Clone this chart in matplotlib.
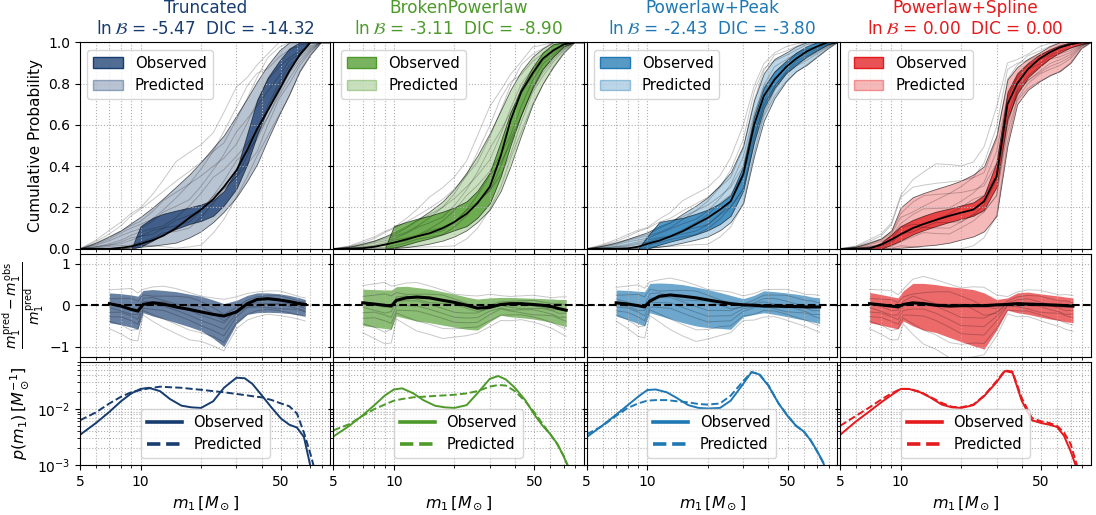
import numpy as np
import matplotlib
matplotlib.use('Agg')
import matplotlib.pyplot as plt
from matplotlib.patches import Patch
from matplotlib.lines import Line2D
from matplotlib.colors import to_rgba
from matplotlib.ticker import NullFormatter

models = ['Truncated', 'BrokenPowerlaw', 'Powerlaw+Peak', 'Powerlaw+Spline']
ln_bf = ['-5.47', '-3.11', '-2.43', '0.00']
dic = ['-14.32', '-8.90', '-3.80', '0.00']
colors = ['#173c70', '#4d9a2a', '#1f78b4', '#e41a1c']

# --- top row: cumulative probability vs m1 ---
mass = [5, 6, 7, 8, 9, 10, 11.5, 13, 15, 17.5, 20, 23, 26, 30, 34, 38, 43, 49, 55, 62, 70, 79, 88]

cdf_med = [
    [0, 0, 0, .005, .012, .024, .042, .064, .10, .15, .19, .24, .30, .38, .48, .58, .67, .77, .86, .94, 1, 1, 1],
    [0, 0, .003, .01, .02, .03, .045, .06, .075, .10, .13, .17, .22, .30, .45, .62, .76, .85, .92, .96, .99, 1, 1],
    [0, 0, 0, .002, .01, .024, .04, .06, .085, .12, .15, .19, .23, .36, .60, .74, .82, .88, .92, .955, .98, 1, 1],
    [0, 0, .003, .02, .045, .07, .10, .12, .14, .16, .175, .19, .23, .35, .70, .80, .87, .92, .95, .975, .99, 1, 1],
]
cdf_pred_hi = [
    [0, .03, .06, .09, .125, .155, .20, .245, .30, .36, .42, .49, .55, .645, .73, .81, .89, .96, 1, 1, 1, 1, 1],
    [0, .01, .025, .04, .06, .08, .11, .14, .18, .23, .29, .37, .45, .56, .67, .77, .86, .93, .97, 1, 1, 1, 1],
    [0, .015, .03, .048, .065, .08, .11, .13, .17, .21, .25, .31, .37, .50, .72, .85, .92, .95, .98, 1, 1, 1, 1],
    [0, .01, .03, .05, .09, .20, .25, .27, .29, .31, .33, .36, .40, .55, .82, .88, .92, .95, .98, 1, 1, 1, 1],
]
cdf_pred_lo = [
    [0, 0, 0, .003, .006, .01, .015, .022, .03, .055, .085, .13, .18, .25, .33, .41, .53, .65, .75, .86, .94, 1, 1],
    [0, 0, 0, 0, 0, .003, .008, .015, .025, .04, .06, .09, .13, .19, .28, .40, .55, .70, .80, .88, .95, 1, 1],
    [0, 0, 0, 0, .002, .005, .01, .017, .03, .045, .06, .09, .13, .22, .45, .62, .73, .81, .86, .89, .93, .97, 1],
    [0, 0, 0, 0, .003, .005, .01, .015, .02, .03, .045, .06, .085, .16, .50, .70, .77, .81, .84, .86, .90, .97, 1],
]
cdf_obs_hi = [
    [0, 0, 0, 0, 0, .11, .15, .17, .185, .20, .215, .235, .28, .38, .56, .72, .83, .91, .97, 1, 1, 1, 1],
    [0, 0, 0, 0, 0, .11, .13, .145, .16, .18, .20, .23, .28, .37, .52, .66, .78, .88, .95, .99, 1, 1, 1],
    [0, 0, 0, 0, 0, .06, .13, .14, .15, .17, .19, .22, .26, .40, .64, .78, .86, .91, .95, .98, 1, 1, 1],
    [0, 0, 0, .03, .07, .11, .14, .16, .18, .195, .21, .225, .26, .42, .76, .85, .90, .94, .965, .985, 1, 1, 1],
]
cdf_obs_lo = [
    [0, 0, 0, 0, 0, .01, .04, .07, .096, .12, .135, .16, .21, .29, .41, .55, .68, .79, .87, .94, 1, 1, 1],
    [0, 0, 0, 0, 0, .005, .02, .035, .05, .07, .09, .11, .15, .22, .35, .50, .65, .78, .87, .93, .98, 1, 1],
    [0, 0, 0, 0, 0, 0, .02, .035, .05, .07, .09, .12, .16, .28, .52, .68, .78, .85, .89, .93, .96, .99, 1],
    [0, 0, 0, 0, .02, .04, .07, .09, .11, .13, .145, .16, .19, .30, .63, .75, .83, .88, .92, .95, .975, .99, 1],
]
# position of single predicted draws inside the predicted band (0 = lower edge, 1 = upper edge)
cdf_draws = [
    [0.3, 0.35, 0.4, 0.45, 0.5, 0.5, 0.45, 0.4, 0.45, 0.5, 0.55, 0.6, 0.55, 0.5, 0.45, 0.4, 0.45, 0.5, 0.55, 0.5, 0.5, 0.5, 0.5],
    [0.7, 0.75, 0.8, 0.85, 0.8, 0.75, 0.7, 0.75, 0.8, 0.85, 0.8, 0.75, 0.7, 0.65, 0.7, 0.75, 0.8, 0.75, 0.7, 0.7, 0.7, 0.7, 0.7],
    [0.1, 0.15, 0.2, 0.15, 0.1, 0.15, 0.2, 0.25, 0.2, 0.15, 0.2, 0.25, 0.3, 0.25, 0.2, 0.15, 0.2, 0.25, 0.2, 0.2, 0.2, 0.2, 0.2],
    [1.1, 1.15, 1.2, 1.25, 1.3, 1.25, 1.2, 1.15, 1.1, 1.05, 1.0, 0.95, 0.9, 0.95, 1.0, 1.05, 1.1, 1.05, 1.0, 1.0, 1.0, 1.0, 1.0],
    [-0.1, -0.15, -0.2, -0.1, 0.0, 0.05, 0.0, -0.05, -0.1, -0.15, -0.2, -0.15, -0.1, 0.0, 0.05, 0.1, 0.05, 0.0, -0.05, 0, 0, 0, 0],
    [0.55, 0.6, 0.65, 0.7, 0.65, 0.6, 0.65, 0.7, 0.65, 0.6, 0.65, 0.7, 0.75, 0.8, 0.75, 0.7, 0.65, 0.6, 0.65, 0.6, 0.6, 0.6, 0.6],
    [0.4, 0.35, 0.3, 0.35, 0.4, 0.35, 0.3, 0.35, 0.4, 0.35, 0.3, 0.35, 0.4, 0.45, 0.35, 0.3, 0.3, 0.35, 0.4, 0.4, 0.4, 0.4, 0.4],
    [0.9, 0.95, 1.0, 0.95, 0.9, 0.85, 0.9, 0.95, 0.9, 0.85, 0.9, 0.95, 1.05, 1.1, 1.15, 1.1, 0.95, 0.9, 0.85, 0.9, 0.9, 0.9, 0.9],
    [1.3, 1.4, 1.5, 1.45, 1.4, 1.3, 1.35, 1.4, 1.45, 1.35, 1.25, 1.2, 1.3, 1.35, 1.25, 1.2, 1.15, 1.2, 1.1, 1, 1, 1, 1],
    [0.2, 0.25, 0.3, 0.25, 0.3, 0.35, 0.4, 0.35, 0.3, 0.25, 0.3, 0.35, 0.3, 0.25, 0.3, 0.35, 0.3, 0.3, 0.3, 0.3, 0.3, 0.3, 0.3],
]

# --- middle row: relative residual ---
nan = np.nan
res_mass = [7, 8, 9, 9.7, 10.3, 11.5, 13, 15, 17.5, 20, 23, 26, 30, 34, 38, 43, 49, 55, 62, 66, 72]
res_hi = [
    [.30, .28, .25, .22, .36, .38, .36, .33, .27, .22, .13, .04, .12, .24, .30, .30, .28, .24, .18, .14, nan],
    [.39, .38, .37, .37, .45, .46, .43, .39, .33, .27, .20, .15, .18, .19, .19, .18, .17, .16, .15, .14, .14],
    [.37, .36, .34, .33, .53, .54, .53, .50, .44, .38, .31, .24, .16, .24, .35, .33, .30, .27, .23, .20, .18],
    [.31, .26, .21, .18, .35, .53, .53, .50, .45, .42, .38, .30, .14, .18, .30, .32, .28, .25, .22, .20, .18],
]
res_lo = [
    [-.42, -.47, -.53, -.58, -.18, -.26, -.33, -.42, -.52, -.62, -.80, -1.0, -.45, -.22, -.18, -.17, -.18, -.20, -.24, -.26, nan],
    [-.49, -.53, -.56, -.58, -.26, -.32, -.38, -.42, -.48, -.53, -.58, -.60, -.40, -.24, -.28, -.30, -.33, -.37, -.43, -.47, -.52],
    [-.26, -.35, -.44, -.50, -.18, -.25, -.33, -.42, -.50, -.54, -.56, -.58, -.28, -.22, -.18, -.22, -.27, -.32, -.37, -.40, -.44],
    [-.42, -.48, -.54, -.57, -.38, -.50, -.60, -.66, -.78, -.88, -.98, -1.06, -.60, -.12, -.18, -.22, -.28, -.33, -.37, -.40, -.42],
]
res_med = [
    [.04, -.02, -.10, -.14, .02, .06, .03, -.04, -.10, -.16, -.22, -.26, -.16, .04, .14, .16, .13, .09, .04, .02, nan],
    [.06, .03, 0, -.02, .12, .18, .20, .18, .12, .07, 0, -.07, -.05, .02, .04, .04, .02, 0, -.04, -.08, -.12],
    [.06, .03, -.01, -.04, .10, .22, .25, .22, .18, .13, .08, .04, .01, 0, -.02, -.02, -.03, -.03, -.04, -.04, -.04],
    [.04, .01, -.02, -.04, .02, .06, .04, 0, -.02, -.01, -.01, -.01, .01, .02, .04, .03, .02, .01, 0, -.01, -.02],
]
res_draws = [
    [0.5, 0.45, 0.4, 0.45, 0.5, 0.55, 0.6, 0.55, 0.5, 0.45, 0.5, 0.55, 0.6, 0.55, 0.5, 0.45, 0.5, 0.55, 0.5, 0.45, 0.5],
    [0.8, 0.85, 0.9, 0.85, 0.8, 0.75, 0.8, 0.85, 0.9, 0.85, 0.8, 0.75, 0.7, 0.75, 0.8, 0.85, 0.9, 0.85, 0.8, 0.85, 0.8],
    [0.2, 0.25, 0.2, 0.15, 0.2, 0.25, 0.3, 0.25, 0.2, 0.15, 0.2, 0.25, 0.3, 0.35, 0.3, 0.25, 0.2, 0.25, 0.3, 0.25, 0.2],
    [-0.2, -0.3, -0.4, -0.35, -0.1, -0.2, -0.3, -0.35, -0.4, -0.3, -0.2, -0.1, -0.2, -0.3, -0.2, -0.1, -0.15, -0.2, -0.25, -0.3, -0.35],
    [1.1, 1.15, 1.2, 1.1, 1.05, 1.1, 1.15, 1.1, 1.05, 1.0, 1.05, 1.1, 1.15, 1.1, 1.05, 1.1, 1.15, 1.1, 1.05, 1.1, 1.1],
    [0.65, 0.6, 0.55, 0.6, 0.65, 0.7, 0.65, 0.6, 0.65, 0.7, 0.65, 0.6, 0.55, 0.6, 0.65, 0.7, 0.65, 0.6, 0.55, 0.6, 0.65],
    [0.35, 0.4, 0.35, 0.3, 0.35, 0.4, 0.45, 0.4, 0.35, 0.3, 0.35, 0.4, 0.45, 0.4, 0.35, 0.4, 0.45, 0.4, 0.35, 0.3, 0.35],
    [0.05, 0.0, -0.1, 0.0, 0.1, 0.05, 0.0, -0.05, -0.1, -0.05, 0.05, 0.1, 0.05, 0.0, 0.1, 0.15, 0.1, 0.05, 0.0, -0.05, -0.1],
]

# --- bottom row: log10 of p(m1) ---
pdf_mass = [5, 6, 7, 8, 9, 10, 11, 12.5, 14, 16, 18, 20, 23, 26, 30, 33, 36, 40, 45, 50, 55, 60, 65, 70, 75, 80]
log_pdf_obs = [
    [-2.46, -2.25, -2.05, -1.86, -1.72, -1.64, -1.62, -1.68, -1.82, -1.94, -1.97, -1.98, -1.86, -1.62, -1.44, -1.45, -1.55, -1.75, -1.98, -2.17, -2.28, -2.33, -2.5, -3.02, -3.6, -4.2],
    [-2.49, -2.3, -2.11, -1.93, -1.76, -1.65, -1.63, -1.72, -1.84, -1.94, -1.97, -1.98, -1.93, -1.72, -1.46, -1.41, -1.47, -1.62, -1.84, -2.1, -2.3, -2.45, -2.62, -2.85, -3.1, -3.5],
    [-2.5, -2.29, -2.1, -1.93, -1.78, -1.66, -1.65, -1.70, -1.8, -1.93, -1.98, -1.99, -1.98, -1.85, -1.55, -1.34, -1.38, -1.58, -1.9, -2.13, -2.3, -2.4, -2.56, -2.75, -2.95, -3.3],
    [-2.46, -2.22, -2.04, -1.88, -1.75, -1.64, -1.64, -1.70, -1.79, -1.92, -1.97, -1.98, -1.93, -1.77, -1.52, -1.32, -1.35, -1.85, -2.2, -2.25, -2.28, -2.32, -2.48, -2.75, -3.05, -3.4],
]
log_pdf_pred = [
    [-2.2, -2.06, -1.9, -1.78, -1.7, -1.66, -1.63, -1.60, -1.61, -1.62, -1.64, -1.655, -1.68, -1.70, -1.73, -1.75, -1.77, -1.79, -1.84, -1.90, -1.95, -2.08, -2.42, -2.8, -3.2, -3.7],
    [-2.38, -2.27, -2.12, -2.0, -1.92, -1.85, -1.82, -1.79, -1.78, -1.765, -1.755, -1.745, -1.72, -1.68, -1.6, -1.57, -1.58, -1.68, -1.86, -2.06, -2.27, -2.45, -2.63, -2.84, -3.1, -3.5],
    [-2.45, -2.3, -2.12, -1.98, -1.9, -1.85, -1.84, -1.84, -1.86, -1.88, -1.91, -1.92, -1.9, -1.76, -1.5, -1.34, -1.37, -1.57, -1.9, -2.12, -2.3, -2.4, -2.56, -2.76, -2.96, -3.3],
    [-2.3, -2.12, -1.97, -1.83, -1.72, -1.64, -1.64, -1.69, -1.78, -1.89, -1.96, -1.97, -1.92, -1.76, -1.5, -1.31, -1.33, -1.80, -2.16, -2.22, -2.25, -2.30, -2.42, -2.62, -2.98, -3.4],
]

fig = plt.figure(figsize=(10.96, 5.15), dpi=100)
gs = fig.add_gridspec(3, 4, height_ratios=[2, 1, 1], hspace=0.035, wspace=0.012,
                      left=0.073, right=0.995, top=0.918, bottom=0.097)
axes = [[fig.add_subplot(gs[r, c]) for c in range(4)] for r in range(3)]

m = np.array(mass)
rm = np.array(res_mass)
pm = np.array(pdf_mass)

for c, col in enumerate(colors):
    # cumulative panel
    ax = axes[0][c]
    lo, hi = np.array(cdf_pred_lo[c]), np.array(cdf_pred_hi[c])
    ax.fill_between(m, lo, hi, facecolor=to_rgba(col, 0.3), edgecolor=(0, 0, 0, 0.6), lw=0.6)
    ax.fill_between(m, cdf_obs_lo[c], cdf_obs_hi[c], facecolor=to_rgba(col, 0.75),
                    edgecolor=(0, 0, 0, 0.6), lw=0.6)
    for f in cdf_draws:
        y = np.clip(lo + np.array(f) * (hi - lo), 0, 1)
        ax.plot(m, y, color='k', alpha=0.22, lw=0.7)
    ax.plot(m, cdf_med[c], color='k', lw=1.3)
    ax.set_ylim(0, 1)
    ax.set_yticks([0, 0.2, 0.4, 0.6, 0.8, 1.0])
    title = models[c] + '\n' + r'$\ln\mathcal{B}$' + ' = %s  DIC = %s' % (ln_bf[c], dic[c])
    ax.set_title(title, color=col, fontsize=12.2)
    handles = [Patch(facecolor=to_rgba(col, 0.75), edgecolor=col),
               Patch(facecolor=to_rgba(col, 0.3), edgecolor=to_rgba(col, 0.4))]
    ax.legend(handles, ['Observed', 'Predicted'], loc='upper left', fontsize=10.7)

    # residual panel
    ax = axes[1][c]
    lo, hi = np.array(res_lo[c]), np.array(res_hi[c])
    ax.fill_between(rm, lo, hi, color=col, alpha=0.65, lw=0)
    for f in res_draws:
        ax.plot(rm, lo + np.array(f) * (hi - lo), color='k', alpha=0.22, lw=0.7)
    ax.plot(rm, res_med[c], color='k', lw=2.2)
    ax.axhline(0, color='k', ls='--', lw=1.5)
    ax.set_ylim(-1.25, 1.25)
    ax.set_yticks([-1, 0, 1])

    # density panel
    ax = axes[2][c]
    ax.plot(pm, 10 ** np.array(log_pdf_obs[c]), color=col, lw=1.4)
    ax.plot(pm, 10 ** np.array(log_pdf_pred[c]), color=col, lw=1.4, ls='--')
    ax.set_yscale('log')
    ax.set_ylim(1e-3, 0.07)
    handles = [Line2D([], [], color=col, lw=2.6), Line2D([], [], color=col, lw=2.6, ls='--')]
    ax.legend(handles, ['Observed', 'Predicted'], loc='lower center', fontsize=10.5,
              handlelength=2.4)
    ax.set_xlabel(r'$m_1\,[M_\odot]$', fontsize=11.5)

for r in range(3):
    for c in range(4):
        ax = axes[r][c]
        ax.set_xscale('log')
        ax.set_xlim(5, 88)
        ax.set_xticks([5, 10, 50])
        ax.set_xticklabels(['5', '10', '50'] if r == 2 else [])
        ax.xaxis.set_minor_formatter(NullFormatter())
        ax.grid(True, which='both', ls=':', color='#b0b0b0', lw=0.8)
        ax.tick_params(labelsize=10)
        if c > 0:
            ax.tick_params(labelleft=False)

axes[0][0].set_ylabel('Cumulative Probability', fontsize=11)
axes[1][0].set_ylabel(r'$\dfrac{m_1^{\rm pred} - m_1^{\rm obs}}{m_1^{\rm pred}}$', fontsize=10,
                      labelpad=2)
axes[2][0].set_ylabel(r'$p(m_1)\,[M_\odot^{-1}]$', fontsize=11.5)

fig.savefig('out.png', dpi=100)
